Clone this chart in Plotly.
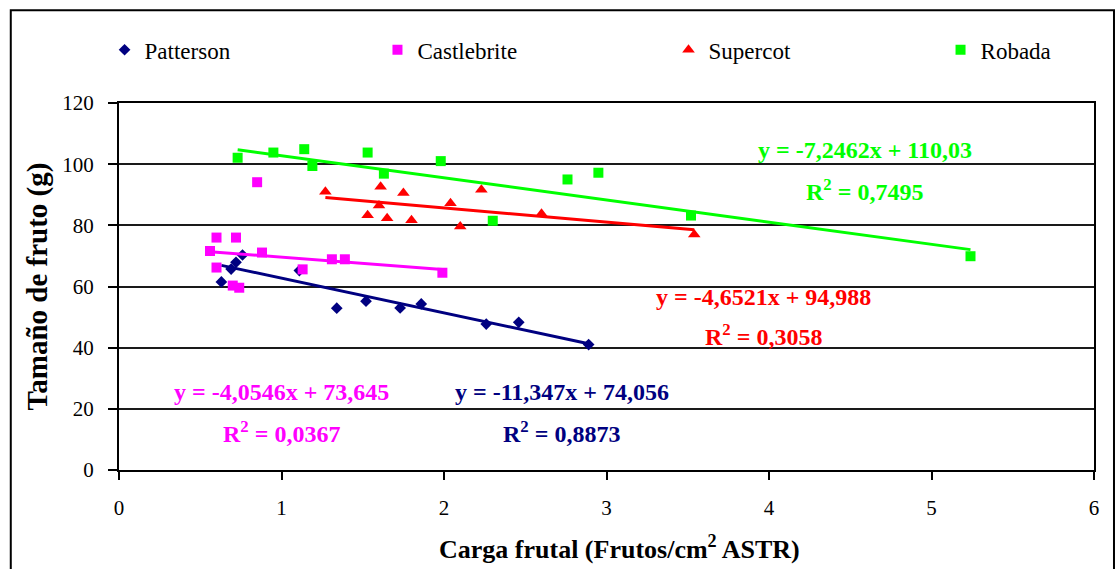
import plotly.graph_objects as go

# Carga frutal (frutos/cm2 ASTR) y tamaño de fruto (g) por variedad
patterson_x = [0.63, 0.69, 0.72, 0.76, 1.11, 1.34, 1.52, 1.73, 1.86, 2.26, 2.46, 2.89]
patterson_y = [61.5, 65.7, 67.9, 70.3, 65.2, 52.9, 55.2, 53.0, 54.3, 47.7, 48.3, 41.0]

castlebrite_x = [0.60, 0.72, 0.56, 0.88, 0.60, 0.70, 0.74, 1.13, 0.85, 1.31, 1.39, 1.99]
castlebrite_y = [76.0, 76.0, 71.6, 71.1, 66.2, 60.3, 59.6, 65.6, 94.1, 68.9, 68.9, 64.5]

supercot_x = [1.27, 1.53, 1.60, 1.61, 1.65, 1.75, 1.80, 2.04, 2.10, 2.23, 2.60, 3.54]
supercot_y = [91.0, 83.3, 86.5, 92.6, 82.3, 90.6, 81.7, 87.2, 79.6, 91.6, 83.8, 77.0]

robada_x = [0.73, 0.95, 1.14, 1.19, 1.53, 1.63, 1.98, 2.30, 2.76, 2.95, 3.52, 5.24]
robada_y = [102.1, 103.8, 104.9, 99.4, 103.8, 96.9, 101.0, 81.5, 95.0, 97.2, 83.2, 69.9]

# Ajustes lineales: pendiente, ordenada y textos de la ecuación y R2
patterson_fit = (-11.347, 74.056, "-11,347", "74,056", "0,8873")
castlebrite_fit = (-4.0546, 73.645, "-4,0546", "73,645", "0,0367")
supercot_fit = (-4.6521, 94.988, "-4,6521", "94,988", "0,3058")
robada_fit = (-7.2462, 110.03, "-7,2462", "110,03", "0,7495")

# Posición (x, y) de cada ecuación y de su R2
patterson_lbl = [(2.726, 25.5), (2.726, 12.4)]
castlebrite_lbl = [(1.0, 25.5), (1.0, 12.4)]
supercot_lbl = [(3.966, 56.6), (3.966, 44.1)]
robada_lbl = [(4.593, 104.6), (4.59, 91.6)]

x_ticks = [0, 1, 2, 3, 4, 5, 6]
y_ticks = [0, 20, 40, 60, 80, 100, 120]

x_title = "<b>Carga frutal (Frutos/cm<sup>2</sup> ASTR)</b>"
y_title = "<b>Tamaño de fruto (g)</b>"

SERIF = "Liberation Serif"

# nombre, datos, ajuste, etiquetas, color, símbolo, tamaño, leyenda y su posición x
series = [
    ("Patterson", patterson_x, patterson_y, patterson_fit, patterson_lbl,
     "#000080", "diamond", 9, "legend", -0.0148),
    ("Castlebrite", castlebrite_x, castlebrite_y, castlebrite_fit, castlebrite_lbl,
     "#FF00FF", "square", 10, "legend2", 0.2651),
    ("Supercot", supercot_x, supercot_y, supercot_fit, supercot_lbl,
     "#FF0000", "triangle-up", 11, "legend3", 0.5636),
    ("Robada", robada_x, robada_y, robada_fit, robada_lbl,
     "#00FF00", "square", 10, "legend4", 0.8426),
]

fig = go.Figure()
annotations = []
legends = {}
for name, xs, ys, (m, b, m_txt, b_txt, r2), lbl, color, symbol, size, lg, lgx in series:
    fig.add_trace(go.Scatter(
        x=xs, y=ys, mode="markers", name=name, legend=lg,
        marker=dict(color=color, symbol=symbol, size=size, line=dict(width=0)),
    ))
    x0, x1 = min(xs), max(xs)
    fig.add_trace(go.Scatter(
        x=[x0, x1], y=[m * x0 + b, m * x1 + b], mode="lines",
        line=dict(color=color, width=3), showlegend=False, hoverinfo="skip",
    ))
    annotations.append(dict(
        x=lbl[0][0], y=lbl[0][1], xref="x", yref="y",
        text=f"<b>y = {m_txt}x + {b_txt}</b>", showarrow=False,
        font=dict(family=SERIF, size=24, color=color),
    ))
    annotations.append(dict(
        x=lbl[1][0], y=lbl[1][1], xref="x", yref="y",
        text=f"<b>R<sup>2</sup> = {r2}</b>", showarrow=False,
        font=dict(family=SERIF, size=24, color=color),
    ))
    legends[lg] = dict(
        orientation="h", x=lgx, y=1.145, xanchor="left", yanchor="middle",
        font=dict(family=SERIF, size=23, color="black"),
        bgcolor="rgba(0,0,0,0)", itemclick=False,
    )

# Título del eje x como anotación, algo desplazado a la derecha del centro
annotations.append(dict(
    x=0.513, y=-0.21, xref="paper", yref="paper", text=x_title,
    showarrow=False, xanchor="center", yanchor="middle",
    font=dict(family=SERIF, size=26, color="black"),
))

fig.update_layout(
    width=1118, height=569,
    margin=dict(l=119, r=24, t=103, b=99),
    paper_bgcolor="white", plot_bgcolor="white",
    font=dict(family=SERIF, color="black", size=21),
    showlegend=True,
    annotations=annotations,
    shapes=[dict(
        type="rect", xref="paper", yref="paper",
        x0=-0.111, x1=1.0205, y0=-0.3, y1=1.253,
        line=dict(color="black", width=2), fillcolor="rgba(0,0,0,0)", layer="below",
    )],
    **legends,
)

fig.update_xaxes(
    range=[0, 6], tickvals=x_ticks, ticktext=[str(t) for t in x_ticks],
    showgrid=False, zeroline=False,
    showline=True, linecolor="black", linewidth=2, mirror=True,
    ticks="outside", ticklen=8, tickwidth=1.5, tickcolor="black",
    ticklabelstandoff=10,
    tickfont=dict(family=SERIF, size=21, color="black"),
)
fig.update_yaxes(
    range=[0, 120], tickvals=y_ticks, ticktext=[str(t) for t in y_ticks],
    showgrid=True, gridcolor="#1a1a1a", gridwidth=1.6, zeroline=False,
    showline=True, linecolor="black", linewidth=2, mirror=True,
    ticks="outside", ticklen=9, tickwidth=1.5, tickcolor="black",
    ticklabelstandoff=10,
    tickfont=dict(family=SERIF, size=21, color="black"),
    title=dict(text=y_title,
               font=dict(family=SERIF, size=29, color="black"), standoff=6),
)

fig.write_html("out.html")
